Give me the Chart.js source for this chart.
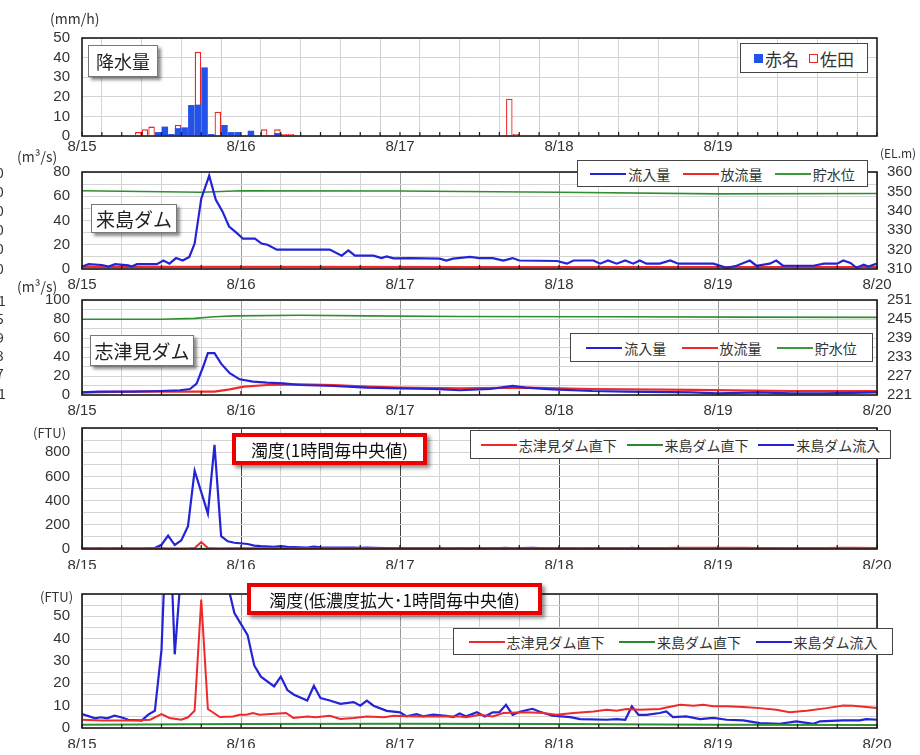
<!DOCTYPE html>
<html><head><meta charset="utf-8">
<script src="https://cdn.jsdelivr.net/npm/chart.js@4.4.1/dist/chart.umd.min.js"></script>
<style>
html,body{margin:0;padding:0;background:#fff;}
#wrap{position:relative;width:920px;height:755px;overflow:hidden;font-family:"Noto Sans CJK JP",sans-serif;color:#222;}
canvas.pn{position:absolute;left:0;top:0;}
.t{position:absolute;white-space:nowrap;font-size:13px;line-height:1;color:#333;z-index:5;}
.box{position:absolute;background:#fff;border:1px solid #777;box-shadow:3px 3px 3px rgba(0,0,0,0.45);display:flex;align-items:center;justify-content:center;z-index:6;white-space:nowrap;color:#222;}
.rbox{position:absolute;background:#fff;border:4px solid #ee0000;box-shadow:3px 3px 4px rgba(0,0,0,0.45);display:flex;align-items:center;justify-content:center;z-index:6;white-space:nowrap;color:#111;font-size:17px;}
.leg{position:absolute;background:#fff;border:1px solid #444;display:flex;align-items:center;justify-content:space-evenly;z-index:6;white-space:nowrap;font-size:14px;color:#333;}
.li{display:flex;align-items:center;}
.ln{display:inline-block;width:36px;height:2px;margin-right:2px;}
</style></head>
<body><div id="wrap">
<canvas class="pn" id="c1" width="920" height="755"></canvas>
<canvas class="pn" id="c2" width="920" height="755"></canvas>
<canvas class="pn" id="c3" width="920" height="755"></canvas>
<canvas class="pn" id="c4" width="920" height="755"></canvas>
<canvas class="pn" id="c5" width="920" height="755"></canvas>

<div class="t" style="left:50px;top:11px;font-size:14px;">(mm/h)</div>
<div class="t" style="left:17px;top:149px;font-size:14px;">(m³/s)</div>
<div class="t" style="left:880px;top:147px;font-size:12px;">(EL.m)</div>
<div class="t" style="left:17px;top:279px;font-size:14px;">(m³/s)</div>
<div class="t" style="left:33px;top:426px;font-size:13px;">(FTU)</div>
<div class="t" style="left:40px;top:590px;font-size:13px;">(FTU)</div>

<div class="t" style="left:-5px;top:148px;font-size:14px;">)</div>
<div class="t" style="left:-4px;top:165px;font-size:14px;">0</div>
<div class="t" style="left:-4px;top:184px;font-size:14px;">0</div>
<div class="t" style="left:-4px;top:203px;font-size:14px;">0</div>
<div class="t" style="left:-4px;top:222px;font-size:14px;">0</div>
<div class="t" style="left:-4px;top:241px;font-size:14px;">0</div>
<div class="t" style="left:-4px;top:261px;font-size:14px;">0</div>
<div class="t" style="left:-2px;top:293px;font-size:14px;">1</div>
<div class="t" style="left:-4px;top:311px;font-size:14px;">5</div>
<div class="t" style="left:-4px;top:330px;font-size:14px;">9</div>
<div class="t" style="left:-4px;top:348px;font-size:14px;">3</div>
<div class="t" style="left:-4px;top:366px;font-size:14px;">7</div>
<div class="t" style="left:-2px;top:386px;font-size:14px;">1</div>

<div class="box" style="left:88px;top:45px;width:68px;height:30px;font-size:18px;">降水量</div>
<div class="box" style="left:91px;top:204px;width:84px;height:27px;font-size:19px;">来島ダム</div>
<div class="box" style="left:90px;top:335px;width:102px;height:29px;font-size:19px;">志津見ダム</div>
<div class="rbox" style="left:232px;top:433px;width:187px;height:24px;">濁度(1時間毎中央値)</div>
<div class="rbox" style="left:247px;top:583px;width:287px;height:24px;">濁度(低濃度拡大･1時間毎中央値)</div>

<div class="leg" style="left:740px;top:43px;width:126px;height:28px;font-size:17px;justify-content:center;">
  <span class="li"><span style="display:inline-block;width:9px;height:9px;background:#2352e8;margin-right:2px;"></span>赤名</span>
  <span class="li" style="margin-left:10px;"><span style="display:inline-block;width:7px;height:7px;border:1px solid #ee2222;margin-right:2px;"></span>佐田</span>
</div>
<div class="leg" style="left:577px;top:160px;width:289px;height:25px;">
  <span class="li"><span class="ln" style="background:#2424d6"></span>流入量</span>
  <span class="li"><span class="ln" style="background:#ee2a2a"></span>放流量</span>
  <span class="li"><span class="ln" style="background:#3a9a3a"></span>貯水位</span>
</div>
<div class="leg" style="left:570px;top:333px;width:301px;height:27px;">
  <span class="li"><span class="ln" style="background:#2424d6"></span>流入量</span>
  <span class="li"><span class="ln" style="background:#ee2a2a"></span>放流量</span>
  <span class="li"><span class="ln" style="background:#3a9a3a"></span>貯水位</span>
</div>
<div class="leg" style="left:470px;top:430px;width:419px;height:27px;">
  <span class="li"><span class="ln" style="background:#ee2a2a"></span>志津見ダム直下</span>
  <span class="li"><span class="ln" style="background:#2a8a2a"></span>来島ダム直下</span>
  <span class="li"><span class="ln" style="background:#2424d6"></span>来島ダム流入</span>
</div>
<div class="leg" style="left:453px;top:628px;width:438px;height:25px;">
  <span class="li"><span class="ln" style="background:#ee2a2a"></span>志津見ダム直下</span>
  <span class="li"><span class="ln" style="background:#2a8a2a"></span>来島ダム直下</span>
  <span class="li"><span class="ln" style="background:#2424d6"></span>来島ダム流入</span>
</div>
</div>
<script>
// ---- data (x = hours since 8/15 0:00) ----
const dayLabels = ['8/15','8/16','8/17','8/18','8/19','8/20'];

// rainfall (mm/h), hourly bars
const akanaHour = [11,12,13,14,15,16,17,18,19,21,22,23,25,29];
const akanaRain = [2,4.8,1,4,4.4,15.8,16,35,1,5.6,2,2,2.7,1.5];
const sadaHour  = [8,9,10,14,17,20,27,29,30,31,64,65];
const sadaRain  = [2,3.4,4.8,5.6,43,12.4,3.4,3.4,1,1,19,1];

// Kurushima dam
const kuInflowT = [0,1,3,4,5,7,7.5,8.3,11.3,12.3,13.2,14.2,15.2,16.2,17,18,19.2,20.2,21.2,22.2,23.3,24.3,26.1,27.1,28,29.4,37.4,39.2,40.2,41.2,44,45.2,46,47,49.5,54,55,56,58.6,60,62,63.6,65,66,71.7,73.2,74.2,77.2,78.2,79.4,80.7,82,83.2,84.2,85.2,87.2,88.8,90,95.3,97.3,98.8,100.8,101.8,103.8,104.8,105.8,110.4,112,114,114.9,116,116.9,118,118.7,120];
const kuInflowV = [2,4,3.3,2,4,3,2,4,4,7,4.4,9,7,10,21,58,77,57,47.5,35,30,25,25,21,20,16,16,11,15.4,11,11,9,10.4,8.8,9,8.5,7,8.5,10,9,9,7,9,7,6.6,4.4,7,7,4.4,7,4.4,7,4.4,7,4.4,4.4,7,4.4,4.4,1,2.7,7,2.7,4.4,7,2.7,2.7,4.4,4.4,7,5,1,3.5,2,4.4];
const kuOutT = [0,30,60,90,120];
const kuOutV = [1.6,1.6,1.5,1.5,1.5];
const kuLevelT = [0,12,18,24,48,72,96,120];
const kuLevelV = [350.3,349.8,349.6,350.3,350.2,349.6,348.7,348.9];

// Shizumi dam
const shInflowT = [0,2.5,7.7,11.8,14.8,16.3,17.3,18.3,19,20,21,22.3,23.8,25.8,27.9,30.4,33,38,43,48,53,57,61.6,65,67,71,77,82,92,96,102,107,112,120];
const shInflowV = [2.8,3.5,3.5,4.2,5,6.3,12,30,44,44,33,23,16.5,14,13,12.3,10.5,9.5,7.7,7,6.3,5,6.3,9.5,7.7,6,4.2,3.5,2.8,1.8,2.8,1.8,1.8,2.8];
const shOutT = [0,8,20,22.3,24.4,28,33,38,43,48,57,67,77,92,107,120];
const shOutV = [2.8,3.5,3.5,6,8.8,10.5,11.2,10.5,8.8,7.7,7,7.7,6.3,5.3,4.2,4.2];
const shLevelT = [0,12,17,20,23,33,43,57,80,100,120];
const shLevelV = [244.9,244.9,245.2,245.7,246,246.2,246,245.8,245.7,245.6,245.5];

// turbidity (FTU)
const kuInTurbT = [0,2,2.8,3.8,4.9,5.9,7,9,10,11,12,13,14,15,16,17,18,19,20,21,22,23,25,26,27,29,30,31,32,34,35,36,37.4,39,41,42,43,44,46,48,49,50.5,51.5,53,55,56,57,58,59.6,60.8,62,63,64,65,66.2,68,69,71,73.7,75.2,79.2,80.7,82,83,84,85.2,87.2,88.2,89.2,91.2,93.3,95.3,97.3,99.8,102.3,105.3,106.8,107.8,110.4,111.4,114.9,117.4,118.4,120];
const kuInTurbV = [6.2,4.3,4.8,4.3,5.5,4.8,3.7,3.3,6,7.7,35,111,33,72,189,647,470,292,861,106,64,51.5,41.6,28,23,18.6,23,17,14.9,12.3,18.9,13.4,12.3,10.8,11.6,10,12.3,10,7.7,7,5.2,6.2,5.2,6,5.5,4.9,6.5,5.2,7.1,5.2,7,7.1,10.4,5.9,7.4,8.6,7.4,5.5,4.9,4,3.7,4,3.7,9.7,5.9,5.9,6.7,7.4,4.9,5.2,4,4.5,3.7,3.4,2.2,1.9,2.5,3,1.9,3,3.4,3.4,4,3.7];
const shBelowT = [0,3,7.7,10.3,12,13.2,15,16,17,18,19,20.8,22.8,23.8,24.8,25.8,26.8,30.8,31.9,34,35.3,37.4,39,41,43,45.6,47,50.5,57,58,60,62,63.6,67,69.6,71.6,74.2,77.2,79.2,80.7,82.2,84.2,87.2,88.2,90.3,92.3,93.8,95.3,97.3,99.8,102.3,104.8,106.8,109.4,112.4,114.9,116.4,120];
const shBelowV = [3.7,3.4,3.4,3.7,6.2,4.5,3.7,4.8,7.7,57.5,8.5,4.9,5.2,5.9,5.9,6.7,5.9,6.7,4.5,5.2,4.8,5.5,4,4.5,5.2,4.8,5.5,5.2,5.2,4.8,5.9,5.2,6.7,7.1,6.7,5.9,6.7,7.4,8.2,7.7,8.5,8.2,8.5,9.2,10.4,10,10.4,9.7,9.7,9.4,8.9,8.2,7.1,7.7,8.9,10.1,10,8.9];
const kuBelowT = [0,24,48,72,96,120];
const kuBelowV = [1.5,1.8,1.9,1.8,1.5,1.3];

// ---- helpers ----
const pts = (T,V,dx) => T.map((t,i)=>({x:t+(dx||0), y:V[i]}));
const BLUE='#2424d6', RED='#ee2a2a', GREEN='#2f8f2f';
const TICKFONT = {family:'"Liberation Sans", sans-serif', size:15};
const TICKCOLOR = '#333';
const XH = 20;

Chart.register({
  id:'frame',
  afterDatasetsDraw(chart, args, opts){
    const {ctx, chartArea:a} = chart;
    ctx.save();
    ctx.strokeStyle='#1a1a1a'; ctx.lineWidth=1.6;
    ctx.strokeRect(a.left, a.top, a.right-a.left, a.bottom-a.top);
    const xs = chart.scales.x, step = opts.step || 6;
    ctx.lineWidth=1.2;
    for (let t=0; t<=120; t+=step){
      const px = xs.getPixelForValue(t);
      ctx.beginPath(); ctx.moveTo(px, a.bottom); ctx.lineTo(px, a.bottom-4); ctx.stroke();
    }
    ctx.restore();
  }
});

function xScale(dayColor, showLast, pad){
  return {
    type:'linear', min:0, max:120, offset:false,
    ticks:{stepSize:6, autoSkip:false, maxRotation:0, padding:pad, font:TICKFONT, color:TICKCOLOR,
      callback:(v)=> (v%24===0 && (showLast || v<120)) ? dayLabels[v/24] : ''},
    grid:{drawTicks:false, color:(c)=> (c.tick && c.tick.value%24===0) ? dayColor : '#d4d4d4', lineWidth:1},
    border:{display:false},
    afterFit:(s)=>{ s.height = XH; }
  };
}
function yLeft(min,max,step,labelFn,gridColor){
  return {
    type:'linear', position:'left', min, max,
    ticks:{stepSize:step, autoSkip:false, padding:12, font:TICKFONT, color:TICKCOLOR, callback:labelFn},
    grid:{drawTicks:false, color:gridColor||'#d4d4d4', lineWidth:1},
    border:{display:false},
    afterFit:(s)=>{ s.width = 82; }
  };
}
function yRight(min,max,step){
  return {
    type:'linear', position:'right', min, max,
    ticks:{stepSize:step, autoSkip:false, padding:10, font:TICKFONT, color:TICKCOLOR},
    grid:{display:false, drawTicks:false},
    border:{display:false},
    afterFit:(s)=>{ s.width = 43; }
  };
}
function pad(top,bottom,hasRight){
  return {top, bottom:755-bottom-XH, left:0, right: hasRight?0:43};
}
function line(label, data, color, w, axis){
  return {type:'line', label, data, borderColor:color, backgroundColor:color, borderWidth:w,
          pointRadius:0, tension:0, fill:false, yAxisID:axis||'y'};
}
const common = {responsive:false, animation:false, events:[],
  plugins:{legend:{display:false}, tooltip:{enabled:false}}};

// Panel 1: rainfall
new Chart(document.getElementById('c1'), {
  type:'bar',
  data:{datasets:[
    {label:'赤名', data:pts(akanaHour,akanaRain,0.5), backgroundColor:'#2352e8', borderWidth:0,
     barPercentage:1, categoryPercentage:0.98, grouped:false, order:0},
    {label:'佐田', data:pts(sadaHour,sadaRain,0.5), backgroundColor:'#ffffff', borderColor:'#ee2222', borderWidth:1.3,
     barPercentage:1, categoryPercentage:0.98, grouped:false, order:1}
  ]},
  options:Object.assign({}, common, {
    layout:{padding:pad(38,136,false)},
    plugins:Object.assign({}, common.plugins, {frame:{step:3}}),
    scales:{
      x:xScale('#cfcfcf', false, 2),
      y:yLeft(0,50,10,(v)=>v)
    }
  })
});

// Panel 2: Kurushima dam
new Chart(document.getElementById('c2'), {
  type:'line',
  data:{datasets:[
    line('流入量', pts(kuInflowT,kuInflowV), BLUE, 2.2),
    line('放流量', pts(kuOutT,kuOutV), RED, 2.6),
    line('貯水位', pts(kuLevelT,kuLevelV), GREEN, 1.6, 'y2')
  ]},
  options:Object.assign({}, common, {
    layout:{padding:pad(172,269,true)},
    plugins:Object.assign({}, common.plugins, {frame:{step:6}}),
    scales:{
      x:xScale('#9a9a9a', true, 7),
      y:yLeft(0,80,10,(v)=> v%20===0 ? v : ''),
      y2:yRight(310,360,10)
    }
  })
});

// Panel 3: Shizumi dam
new Chart(document.getElementById('c3'), {
  type:'line',
  data:{datasets:[
    line('流入量', pts(shInflowT,shInflowV), BLUE, 2.2),
    line('放流量', pts(shOutT,shOutV), RED, 2.2),
    line('貯水位', pts(shLevelT,shLevelV), GREEN, 1.6, 'y2')
  ]},
  options:Object.assign({}, common, {
    layout:{padding:pad(300,395,true)},
    plugins:Object.assign({}, common.plugins, {frame:{step:6}}),
    scales:{
      x:xScale('#9a9a9a', true, 7),
      y:yLeft(0,100,10,(v)=> v%20===0 ? v : ''),
      y2:yRight(221,251,6)
    }
  })
});

// Panel 4: turbidity
new Chart(document.getElementById('c4'), {
  type:'line',
  data:{datasets:[
    line('志津見ダム直下', pts(shBelowT,shBelowV), RED, 2),
    line('来島ダム直下', pts(kuBelowT,kuBelowV), GREEN, 2),
    line('来島ダム流入', pts(kuInTurbT,kuInTurbV), BLUE, 2.2)
  ]},
  options:Object.assign({}, common, {
    layout:{padding:pad(428,549,false)},
    plugins:Object.assign({}, common.plugins, {frame:{step:6}}),
    scales:{
      x:xScale('#444444', true, 8),
      y:yLeft(0,1000,100,(v)=> (v%200===0 && v<1000) ? v : '')
    }
  })
});

// Panel 5: turbidity (low range)
new Chart(document.getElementById('c5'), {
  type:'line',
  data:{datasets:[
    line('志津見ダム直下', pts(shBelowT,shBelowV), RED, 2),
    line('来島ダム直下', pts(kuBelowT,kuBelowV), GREEN, 2),
    line('来島ダム流入', pts(kuInTurbT,kuInTurbV), BLUE, 2.2)
  ]},
  options:Object.assign({}, common, {
    layout:{padding:pad(594,728,false)},
    plugins:Object.assign({}, common.plugins, {frame:{step:6}}),
    scales:{
      x:xScale('#9a9a9a', true, 8),
      y:yLeft(0,60,5,(v)=> (v%10===0 && v<60) ? v : '')
    }
  })
});
</script>
</body></html>
